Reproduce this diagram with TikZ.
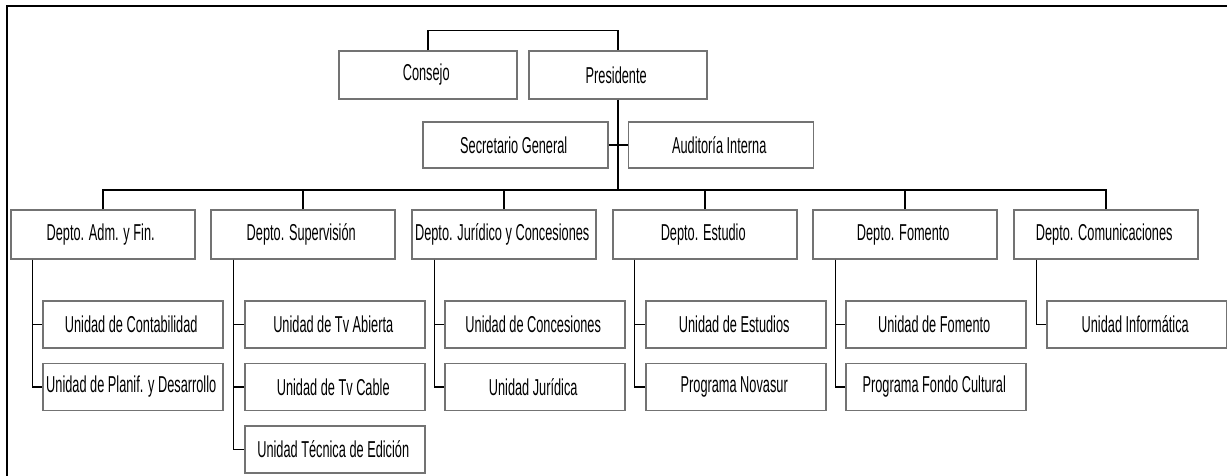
\documentclass[tikz,border=0pt]{standalone}
\usepackage{fontspec}
\setmainfont{Liberation Sans}[FakeStretch=0.555]
\usetikzlibrary{positioning}
\tikzset{
    box/.style={draw=black!55, line width=1.3pt, align=center, inner sep=0pt,
        font=\fontsize{23}{27}\selectfont},
    topbox/.style={box, minimum width=178pt, minimum height=48pt},
    staffbox/.style={box, minimum width=185pt, minimum height=46pt},
    deptbox/.style={box, minimum width=184pt, minimum height=49pt},
    unitbox/.style={box, minimum width=180pt, minimum height=47pt},
    link/.style={draw=black, line width=1.4pt}
}

\begin{document}
\begin{tikzpicture}[x=1pt, y=-1pt]
        \useasboundingbox (0,0) rectangle (1227,475);
        \clip (0,0) rectangle (1227,475);
        \draw[line width=2.2pt] (7,490) |- (1240,6);

        \node[topbox] (Consejo) at (428,75) {
            Consejo
        };
        \node[topbox] (Presidente) at (618,75) {
            Presidente
        };
        \node[staffbox] (Secretario) at (515.5,145) {
            Secretario General
        };
        \node[staffbox] (Auditoria) at (721,145) {
            Auditoría Interna
        };
        \coordinate (Bus) at (618,190);

        \node[deptbox] (Adm) at (103,234.5) {
            Depto. Adm. y Fin.
        };
        \node[deptbox] (Supervision) at (303,234.5) {
            Depto. Supervisión
        };
        \node[deptbox] (Juridico) at (504,234.5) {
            Depto. Jurídico y Concesiones
        };
        \node[deptbox] (Estudio) at (705,234.5) {
            Depto. Estudio
        };
        \node[deptbox] (Fomento) at (905,234.5) {
            Depto. Fomento
        };
        \node[deptbox] (Comunicaciones) at (1106,234.5) {
            Depto. Comunicaciones
        };

        \node[unitbox] (Contabilidad) at (133,324.5) {
            Unidad de Contabilidad
        };
        \node[unitbox] (Planif) at (133,387) {
            Unidad de Planif. y Desarrollo
        };
        \node[unitbox] (TvAbierta) at (335,324.5) {
            Unidad de Tv Abierta
        };
        \node[unitbox] (TvCable) at (335,387) {
            Unidad de Tv Cable
        };
        \node[unitbox] (Edicion) at (335,449.5) {
            Unidad Técnica de Edición
        };
        \node[unitbox] (Concesiones) at (535,324.5) {
            Unidad de Concesiones
        };
        \node[unitbox] (UJuridica) at (535,387) {
            Unidad Jurídica
        };
        \node[unitbox] (Estudios) at (736,324.5) {
            Unidad de Estudios
        };
        \node[unitbox] (Novasur) at (736,387) {
            Programa Novasur
        };
        \node[unitbox] (UFomento) at (936,324.5) {
            Unidad de Fomento
        };
        \node[unitbox] (FondoCultural) at (936,387) {
            Programa Fondo Cultural
        };
        \node[unitbox] (Informatica) at (1137,324.5) {
            Unidad Informática
        };

        \draw[link] (Consejo.north) -- ++(0,-20) -| (Presidente.north);
        \draw[link] (Presidente.south) -- (Bus);
        \draw[link] (Secretario.east) -- (Auditoria.west);
        \foreach \dept in {Adm,Supervision,Juridico,Estudio,Fomento,Comunicaciones} {
            \draw[link] (\dept.north) |- (Bus);
        }

        \draw[link] ([xshift=22pt]Adm.south west) |- (Contabilidad.west);
        \draw[link] ([xshift=22pt]Adm.south west) |- (Planif.west);
        \draw[link] ([xshift=23pt]Supervision.south west) |- (TvAbierta.west);
        \draw[link] ([xshift=23pt]Supervision.south west) |- (TvCable.west);
        \draw[link] ([xshift=23pt]Supervision.south west) |- (Edicion.west);
        \draw[link] ([xshift=23pt]Juridico.south west) |- (Concesiones.west);
        \draw[link] ([xshift=23pt]Juridico.south west) |- (UJuridica.west);
        \draw[link] ([xshift=22pt]Estudio.south west) |- (Estudios.west);
        \draw[link] ([xshift=22pt]Estudio.south west) |- (Novasur.west);
        \draw[link] ([xshift=23pt]Fomento.south west) |- (UFomento.west);
        \draw[link] ([xshift=23pt]Fomento.south west) |- (FondoCultural.west);
        \draw[link] ([xshift=23pt]Comunicaciones.south west) |- (Informatica.west);
\end{tikzpicture}
\end{document}
